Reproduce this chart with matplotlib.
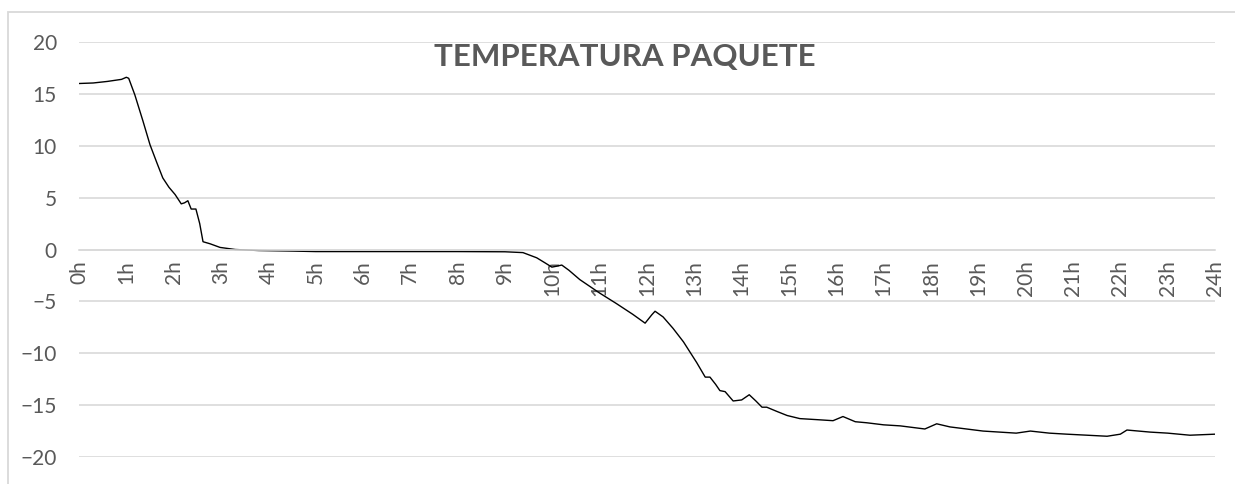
import matplotlib.pyplot as plt
from matplotlib.patches import Rectangle

# temperature readings (hours, degC)
hours = [0.0, 0.3, 0.6, 0.9, 1.0, 1.05, 1.18, 1.35, 1.5, 1.65, 1.77, 1.9, 2.03, 2.16,
         2.23, 2.30, 2.37, 2.47, 2.55, 2.62, 2.77, 2.98, 3.3, 3.8, 4.5, 5.0, 6.0,
         7.0, 8.0, 9.0, 9.38, 9.67, 9.85, 9.99, 10.1, 10.2, 10.35, 10.58, 11.0,
         11.35, 11.7, 11.96, 12.1, 12.17, 12.34, 12.55, 12.77, 13.05, 13.23, 13.33,
         13.45, 13.54, 13.65, 13.82, 14.0, 14.16, 14.3, 14.43, 14.53, 14.74, 14.96,
         15.23, 15.59, 15.93, 16.14, 16.4, 16.64, 17.0, 17.35, 17.87, 18.12, 18.4,
         18.75, 19.1, 19.8, 20.1, 20.5, 20.87, 21.3, 21.72, 22.0, 22.14, 22.63,
         23.0, 23.47, 24.0]
temp = [16.0, 16.05, 16.2, 16.4, 16.6, 16.5, 14.9, 12.4, 10.1, 8.3, 6.9, 6.0, 5.3, 4.4,
        4.5, 4.7, 3.9, 3.9, 2.5, 0.75, 0.55, 0.2, 0.0, -0.1, -0.15, -0.2, -0.2,
        -0.2, -0.2, -0.22, -0.3, -0.8, -1.3, -1.7, -1.6, -1.5, -2.0, -2.9, -4.2,
        -5.2, -6.25, -7.1, -6.3, -5.95, -6.5, -7.6, -8.9, -10.9, -12.3, -12.3,
        -13.0, -13.6, -13.7, -14.6, -14.5, -14.0, -14.6, -15.2, -15.2, -15.6, -16.0,
        -16.3, -16.4, -16.5, -16.1, -16.6, -16.7, -16.9, -17.0, -17.3, -16.8, -17.1,
        -17.3, -17.5, -17.7, -17.5, -17.7, -17.8, -17.9, -18.0, -17.8, -17.4, -17.6,
        -17.7, -17.9, -17.8]

hour_ticks = list(range(0, 25))
hour_labels = [f"{h}h" for h in hour_ticks]
temp_ticks = [-20, -15, -10, -5, 0, 5, 10, 15, 20]

grey = "#595959"
grid_col = "#d9d9d9"
plt.rcParams['font.family'] = ['Lato', 'DejaVu Sans']

fig = plt.figure(figsize=(12.35, 4.84), dpi=100)
# chart frame, partly cut off at right/bottom like the screenshot
fig.patches.append(Rectangle((8/1235, -0.1), 1.2, 1 - 12/484 + 0.1,
                             transform=fig.transFigure, fill=False,
                             edgecolor=grid_col, linewidth=1.3))

ax = fig.add_axes([79/1235, 1 - 457/484, (1215 - 79)/1235, (457 - 42)/484])
ax.plot(hours, temp, color="black", linewidth=1.0)

ax.set_xlim(0, 24)
ax.set_ylim(-20, 20)
ax.set_yticks(temp_ticks)
ax.set_xticks(hour_ticks, hour_labels)
ax.grid(axis="y", color=grid_col, linewidth=1.2)
ax.set_axisbelow(True)

for s in ["top", "right", "left"]:
    ax.spines[s].set_visible(False)
ax.spines["bottom"].set_position(("data", 0))
ax.spines["bottom"].set_color(grid_col)
ax.spines["bottom"].set_linewidth(1.2)

ax.tick_params(axis="y", length=0, pad=16, labelsize=15, labelcolor=grey)
ax.tick_params(axis="x", length=0, pad=8, labelsize=15, labelcolor=grey,
               labelrotation=90)

fig.text(625/1235, 1 - 57.5/484, "TEMPERATURA PAQUETE", ha="center", va="center",
         fontsize=22.5, fontweight="bold", color=grey)

fig.savefig("out.png", dpi=100)
